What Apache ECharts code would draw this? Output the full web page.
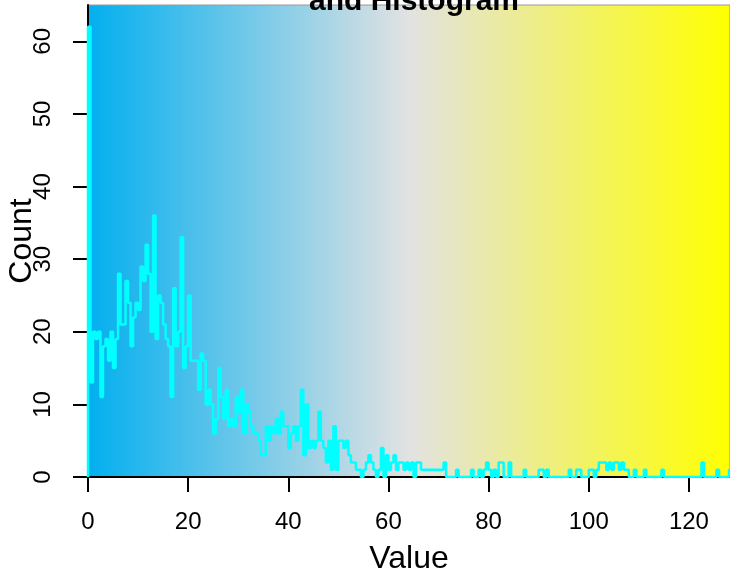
<!DOCTYPE html>
<html>
<head>
<meta charset="utf-8">
<script src="https://cdn.jsdelivr.net/npm/echarts@6/dist/echarts.min.js"></script>
<style>
html,body{margin:0;padding:0;background:#fff;}
#chart{width:730px;height:573px;}
</style>
</head>
<body>
<div id="chart"></div>
<script>
// Histogram counts per bin (bin width 0.5, starting at 0)
var binStart = 0;
var binWidth = 0.5;
var counts = [
  62,13,20,19,20,11,18,19,16,20,
  15,19,28,21,21,27,24,18,22,24,
  23,29,27,32,28,20,36,19,25,24,
  21,19,18,11,26,18,20,33,15,18,
  25,16,16,16,12,17,16,10,12,10,
  6,8,15,11,8,12,7,8,7,11,
  9,12,6,10,9,7,6,6,5,3,
  3,7,5,7,6,8,6,9,7,7,
  4,6,7,5,7,12,3,10,4,5,
  4,5,9,5,4,2,5,1,7,1,
  5,5,4,5,3,2,2,1,1,0,
  1,2,3,2,1,0,1,4,0,3,
  1,2,3,1,2,2,1,2,1,2,
  0,2,2,1,1,1,1,1,1,1,
  1,1,2,0,0,0,0,1,0,0,
  0,0,0,1,0,0,1,0,1,2,
  1,0,1,0,2,2,0,0,2,0,
  0,0,0,0,1,0,0,0,0,0,
  1,1,0,1,0,0,0,0,0,0,
  0,0,1,0,0,1,1,0,0,0,
  1,1,0,1,2,2,2,1,2,1,
  2,2,1,2,1,1,0,0,1,0,
  0,0,1,0,0,0,0,0,0,1,
  0,0,0,0,0,0,0,0,0,0,
  0,0,0,0,0,2,0,0,0,0,
  0,1,0,0,0,0,1
];
var xTicks = [0,20,40,60,80,100,120];
var yTicks = [0,10,20,30,40,50,60];
var titleText = 'and Histogram';
var xTitle = 'Value';
var yTitle = 'Count';

// Build step outline points
var pts = [[binStart, 0]];
for (var i = 0; i < counts.length; i++) {
  pts.push([binStart + i * binWidth, counts[i]]);
}
var endX = binStart + counts.length * binWidth;
pts.push([endX, counts[counts.length - 1]]);
pts.push([endX, 0]);

var font = 'Liberation Sans, Arial, Helvetica, sans-serif';
var chart = echarts.init(document.getElementById('chart'), null, {renderer: 'canvas'});
chart.setOption({
  animation: false,
  backgroundColor: '#ffffff',
  title: {
    text: titleText,
    left: 409, top: -18,
    textAlign: 'center',
    textStyle: {fontFamily: font, fontSize: 30, fontWeight: 'bold', color: '#000'}
  },
  grid: {
    left: 88, right: 0, top: 5, bottom: 96,
    containLabel: false,
    outerBoundsMode: 'none',
    show: true,
    borderColor: '#999999', borderWidth: 1,
    backgroundColor: {
      type: 'linear', x: 0, y: 0, x2: 1, y2: 0,
      colorStops: [
        {offset: 0, color: '#02AFEF'},
        {offset: 0.5, color: '#E2E2E2'},
        {offset: 1, color: '#FFFF00'}
      ]
    }
  },
  xAxis: {
    type: 'value', min: 0, max: 128.2, interval: 20,
    name: xTitle, nameLocation: 'middle', nameGap: 66, nameMoveOverlap: false,
    nameTextStyle: {fontFamily: font, fontSize: 32, color: '#000'},
    splitLine: {show: false},
    axisLine: {show: true, onZero: false, lineStyle: {color: '#000', width: 2}},
    axisTick: {show: true, length: 15, lineStyle: {color: '#000', width: 2}},
    axisLabel: {
      fontFamily: font, fontSize: 24, color: '#000', margin: 33,
      showMaxLabel: false,
      formatter: function (v) { return xTicks.indexOf(v) >= 0 ? String(v) : ''; }
    }
  },
  yAxis: {
    type: 'value', min: 0, max: 65, interval: 10,
    name: yTitle, nameLocation: 'middle', nameGap: 50, nameMoveOverlap: false,
    nameTextStyle: {fontFamily: font, fontSize: 32, color: '#000'},
    splitLine: {show: false},
    axisLine: {show: true, onZero: false, lineStyle: {color: '#000', width: 2}},
    axisTick: {show: true, length: 15, lineStyle: {color: '#000', width: 2}},
    axisLabel: {
      fontFamily: font, fontSize: 24, color: '#000', margin: 33, rotate: 90,
      showMaxLabel: false,
      formatter: function (v) { return yTicks.indexOf(v) >= 0 ? String(v) : ''; }
    }
  },
  series: [{
    type: 'line',
    step: 'end',
    data: pts,
    showSymbol: false,
    symbol: 'none',
    clip: true,
    lineStyle: {color: '#00FFFF', width: 2.5},
    z: 5
  }]
});
</script>
</body>
</html>
